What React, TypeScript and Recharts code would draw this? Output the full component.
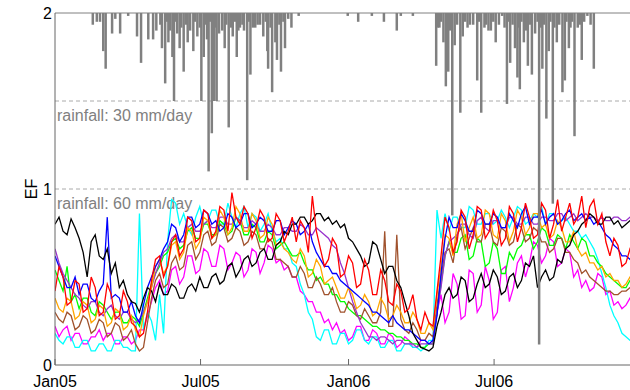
import React from "react";
import { ComposedChart, Line, XAxis, YAxis, ReferenceLine, Label } from "recharts";

// x = days since 1 Jan 2005 (one sample every 5 days), EF values stored as EF x 100
const sampleDays = Array.from({ length: 145 }, (_, i) => i * 5);

const tickDays = [0, 181, 365, 546];
const tickLabels = ["Jan05", "Jul05", "Jan06", "Jul06"];

const black = [
  80, 84, 76, 74, 83, 78, 72, 64, 50, 70, 74, 62,
  60, 66, 52, 58, 44, 48, 40, 36, 35, 30, 38, 44,
  42, 36, 46, 40, 40, 46, 44, 38, 38, 44, 46, 42,
  50, 44, 44, 50, 52, 46, 48, 56, 58, 50, 54, 60,
  62, 56, 58, 64, 66, 60, 60, 68, 70, 76, 74, 80,
  80, 84, 84, 80, 82, 86, 86, 82, 84, 80, 82, 78,
  80, 72, 70, 66, 62, 56, 58, 70, 68, 60, 52, 56,
  56, 48, 44, 36, 28, 18, 14, 10, 9, 8, 10, 22,
  30, 40, 44, 38, 40, 50, 48, 36, 38, 46, 52, 44,
  46, 54, 50, 40, 42, 50, 52, 44, 48, 58, 56, 62,
  44, 50, 54, 48, 50, 60, 58, 66, 68, 74, 76, 80,
  82, 86, 84, 80, 80, 84, 84, 80, 82, 78, 80, 82,
  82,
];
const red = [
  42, 56, 50, 34, 36, 48, 46, 30, 32, 50, 44, 28,
  30, 46, 40, 26, 28, 42, 36, 24, 22, 16, 18, 30,
  48, 60, 62, 50, 56, 70, 74, 62, 66, 84, 82, 70,
  72, 88, 86, 72, 76, 90, 88, 76, 98, 84, 80, 90,
  86, 72, 78, 88, 84, 70, 72, 86, 82, 70, 76, 84,
  70, 82, 78, 64, 96, 76, 66, 56, 60, 72, 68, 50,
  52, 62, 58, 44, 46, 60, 54, 40, 40, 54, 48, 36,
  34, 46, 42, 30, 32, 40, 26, 20, 30, 24, 22, 42,
  62, 84, 78, 64, 70, 88, 84, 66, 74, 90, 88, 72,
  76, 88, 82, 68, 72, 90, 86, 70, 78, 92, 84, 72,
  74, 92, 88, 72, 80, 94, 76, 84, 92, 80, 84, 96,
  78, 90, 94, 80, 86, 70, 62, 72, 68, 56, 58, 66,
  62,
];
const blue = [
  62, 56, 50, 44, 44, 50, 40, 46, 46, 38, 36, 42,
  46, 84, 38, 40, 38, 30, 30, 36, 28, 24, 34, 44,
  50, 56, 60, 66, 70, 80, 78, 70, 74, 84, 84, 78,
  80, 88, 86, 80, 82, 76, 78, 86, 84, 78, 80, 86,
  86, 78, 80, 84, 82, 76, 76, 82, 82, 74, 78, 82,
  80, 74, 76, 80, 70, 64, 60, 56, 56, 52, 52, 48,
  46, 44, 42, 40, 38, 36, 34, 30, 30, 28, 26, 24,
  28, 24, 22, 20, 20, 18, 16, 14, 14, 12, 14, 28,
  52, 72, 84, 78, 78, 86, 82, 76, 76, 88, 86, 80,
  80, 86, 84, 78, 78, 86, 82, 78, 86, 90, 80, 84,
  84, 88, 80, 84, 86, 80, 82, 86, 88, 82, 84, 86,
  82, 84, 80, 82, 78, 74, 72, 68, 66, 62, 62, 60,
  64,
];
const cyan = [
  18, 14, 12, 16, 16, 10, 10, 14, 14, 8, 8, 12,
  12, 8, 8, 14, 14, 10, 10, 8, 8, 86, 20, 30,
  25, 14, 40, 18, 70, 94, 92, 80, 86, 78, 74, 84,
  90, 80, 82, 88, 88, 80, 80, 92, 84, 78, 86, 90,
  78, 86, 84, 76, 80, 86, 76, 70, 72, 66, 66, 58,
  56, 46, 40, 30, 26, 16, 14, 20, 20, 12, 12, 18,
  18, 12, 14, 20, 20, 14, 12, 16, 16, 10, 10, 14,
  14, 8, 8, 12, 12, 10, 10, 8, 10, 14, 14, 88,
  72, 86, 76, 84, 84, 78, 78, 90, 88, 80, 80, 86,
  86, 80, 82, 88, 84, 78, 84, 90, 88, 80, 82, 86,
  84, 90, 80, 86, 86, 80, 82, 84, 80, 76, 76, 72,
  74, 70, 66, 60, 52, 44, 34, 28, 24, 18, 16, 14,
  14,
];
const magenta = [
  22, 16, 20, 22, 14, 18, 18, 12, 12, 16, 16, 20,
  14, 18, 18, 12, 12, 16, 16, 12, 14, 20, 20, 28,
  36, 44, 48, 40, 42, 54, 56, 46, 50, 62, 62, 52,
  54, 66, 64, 56, 56, 68, 66, 54, 58, 64, 62, 50,
  54, 66, 64, 52, 58, 68, 66, 58, 60, 54, 56, 50,
  50, 42, 40, 36, 36, 30, 30, 24, 26, 20, 24, 18,
  20, 14, 16, 22, 22, 14, 14, 20, 18, 12, 12, 18,
  16, 10, 12, 16, 14, 10, 10, 14, 14, 12, 12, 30,
  40, 24, 30, 52, 46, 26, 28, 54, 52, 30, 34, 56,
  48, 26, 30, 54, 56, 36, 44, 58, 62, 50, 58, 70,
  68, 58, 62, 72, 70, 56, 58, 66, 64, 50, 54, 44,
  48, 42, 44, 52, 50, 40, 42, 34, 36, 32, 34, 38,
  36,
];
const green = [
  54, 48, 42, 56, 36, 40, 32, 38, 38, 30, 28, 36,
  34, 30, 26, 30, 30, 24, 24, 28, 26, 22, 30, 38,
  46, 52, 56, 62, 64, 70, 72, 66, 68, 76, 78, 72,
  72, 80, 80, 74, 74, 82, 80, 74, 76, 84, 82, 74,
  74, 80, 78, 70, 70, 76, 74, 66, 68, 70, 66, 62,
  62, 64, 58, 54, 54, 48, 50, 46, 46, 40, 40, 36,
  36, 32, 30, 28, 28, 26, 24, 22, 22, 20, 20, 18,
  18, 16, 16, 14, 14, 12, 12, 10, 10, 12, 12, 30,
  46, 62, 70, 64, 64, 72, 74, 60, 62, 72, 70, 56,
  58, 70, 66, 52, 52, 64, 60, 66, 68, 74, 74, 66,
  70, 78, 76, 68, 68, 74, 72, 66, 74, 70, 66, 72,
  70, 62, 62, 58, 56, 52, 50, 48, 46, 44, 44, 48,
  46,
];
const orange = [
  38, 32, 30, 38, 36, 26, 28, 36, 34, 24, 26, 34,
  32, 22, 24, 32, 30, 20, 22, 28, 20, 16, 28, 36,
  44, 56, 60, 52, 56, 68, 70, 60, 64, 78, 76, 66,
  70, 84, 82, 72, 74, 88, 84, 74, 78, 90, 86, 76,
  76, 86, 82, 72, 74, 84, 80, 68, 70, 66, 64, 60,
  58, 66, 62, 50, 52, 60, 56, 46, 48, 50, 44, 38,
  38, 44, 40, 32, 34, 40, 36, 28, 30, 38, 34, 26,
  28, 34, 30, 24, 24, 30, 26, 18, 18, 24, 20, 40,
  56, 74, 72, 62, 80, 86, 70, 78, 84, 72, 74, 88,
  86, 74, 72, 86, 82, 70, 76, 88, 84, 74, 78, 86,
  86, 78, 80, 72, 74, 82, 78, 70, 70, 76, 66, 62,
  64, 58, 58, 54, 56, 50, 52, 48, 48, 44, 46, 50,
  48,
];
const brown = [
  30, 26, 24, 30, 28, 20, 22, 28, 26, 18, 20, 26,
  24, 16, 18, 24, 22, 14, 16, 20, 12, 8, 10, 24,
  38, 48, 52, 44, 46, 58, 62, 54, 56, 68, 70, 60,
  64, 74, 76, 68, 70, 80, 78, 70, 72, 78, 76, 68,
  70, 76, 74, 66, 66, 72, 70, 60, 60, 58, 56, 50,
  50, 56, 52, 44, 44, 50, 46, 40, 40, 44, 36, 30,
  30, 36, 34, 28, 26, 32, 28, 24, 24, 30, 76, 22,
  22, 74, 26, 20, 18, 24, 20, 14, 14, 18, 16, 34,
  50, 64, 66, 58, 74, 78, 66, 72, 78, 70, 70, 80,
  80, 70, 68, 78, 76, 68, 70, 80, 78, 70, 72, 78,
  76, 70, 70, 64, 66, 72, 72, 64, 64, 60, 58, 52,
  54, 50, 48, 46, 44, 42, 42, 40, 40, 42, 42, 44,
  44,
];
const purple = [
  66, 58, 52, 48, 44, 40, 38, 34, 32, 36, 36, 30,
  28, 32, 34, 28, 26, 30, 30, 26, 24, 26, 30, 36,
  44, 52, 58, 64, 66, 72, 74, 70, 70, 78, 80, 76,
  76, 80, 82, 78, 78, 84, 84, 80, 80, 84, 82, 78,
  78, 82, 80, 76, 76, 80, 78, 74, 74, 78, 78, 76,
  76, 80, 78, 74, 74, 78, 76, 74, 72, 68, 66, 58,
  52, 44, 36, 30, 24, 20, 16, 16, 14, 16, 16, 14,
  12, 14, 14, 12, 12, 12, 10, 12, 12, 12, 12, 30,
  44, 62, 70, 72, 74, 80, 80, 74, 72, 82, 84, 78,
  76, 82, 82, 78, 78, 84, 84, 80, 80, 84, 84, 80,
  80, 84, 84, 82, 82, 86, 86, 82, 84, 86, 82, 84,
  86, 84, 84, 82, 84, 82, 82, 84, 84, 82, 82, 84,
  84,
];

// daily rainfall events (mm/day), hanging from the top of the axes
const rainDays = [
  47, 52, 56, 60, 63, 71, 75, 81, 91, 102, 107, 116, 122, 126, 133, 137, 141, 146, 148, 152,
  155, 160, 165, 172, 177, 182, 185, 189, 191, 195, 198, 201, 208, 211, 216, 221, 226, 230, 235, 239,
  243, 249, 252, 259, 264, 265, 270, 274, 276, 281, 286, 294, 303,
  131, 139, 143, 150, 157, 163, 168, 174, 180, 187, 193, 200, 204, 213, 219, 224, 228, 233, 241, 246,
  255, 262, 268, 279, 284, 290,
  364, 377, 394, 409, 425, 430, 445,
  474, 476, 483, 486, 489, 494, 497, 504, 507, 516, 525, 530, 534, 539, 548, 556, 562, 566, 572, 575,
  578, 583, 588, 593, 597, 602, 606, 611, 614, 619, 624, 631, 634, 639, 646, 650, 655, 662, 670,
  478, 480, 491, 500, 510, 513, 520, 527, 536, 542, 545, 552, 559, 564, 569, 577, 580, 586, 591, 600,
  604, 608, 616, 621, 627, 636, 641, 643, 653, 658, 666,
];
const rainMm = [
  4, 3, 3, 13, 19, 7, 2, 7, 1, 8, 17, 9, 9, 6, 12, 24, 10, 15, 30, 7,
  12, 20, 10, 13, 8, 30, 15, 9, 54, 41, 30, 30, 6, 12, 39, 8, 15, 5, 6, 57,
  21, 5, 4, 8, 13, 19, 27, 10, 16, 20, 12, 5, 1,
  4, 3, 6, 3, 5, 4, 6, 3, 5, 4, 3, 5, 7, 4, 5, 3, 6, 4, 3, 5,
  4, 3, 5, 4, 3, 2,
  1, 3, 1, 3, 6, 1, 1,
  18, 5, 10, 25, 20, 69, 11, 34, 8, 4, 23, 34, 5, 6, 10, 1, 31, 17, 12, 22,
  26, 10, 18, 21, 7, 113, 19, 36, 13, 65, 10, 27, 23, 12, 42, 5, 16, 1, 19,
  5, 3, 6, 4, 3, 5, 4, 3, 4, 6, 3, 4, 5, 3, 4, 5, 3, 6, 4, 3,
  5, 4, 3, 5, 4, 3, 5, 3, 4, 3, 4,
];

const series = [
  { key: "magenta", values: magenta, color: "#ff00ff" },
  { key: "cyan", values: cyan, color: "#00ffff" },
  { key: "green", values: green, color: "#00ff00" },
  { key: "brown", values: brown, color: "#a0522d" },
  { key: "purple", values: purple, color: "#9932cc" },
  { key: "orange", values: orange, color: "#ffa500" },
  { key: "blue", values: blue, color: "#0000ff" },
  { key: "black", values: black, color: "#000000" },
  { key: "red", values: red, color: "#ff0000" },
];

const chartData = sampleDays.map((day, i) => {
  const row: Record<string, number> = { day };
  series.forEach((s) => {
    row[s.key] = s.values[i] / 100;
  });
  return row;
});

const FONT = "'Liberation Sans', Arial, Helvetica, sans-serif";

const rainLabel = (text: string) => (props: any) => {
  const { viewBox } = props;
  return (
    <text x={viewBox.x + 2} y={viewBox.y + 20} fill="#808080" fontSize={16} fontFamily={FONT}>
      {text}
    </text>
  );
};

export default function App() {
  return (
    <div
      style={{
        position: "absolute",
        left: 0,
        top: 0,
        width: 630,
        height: 390,
        overflow: "hidden",
        background: "#fff",
      }}
    >
      <ComposedChart
        width={630}
        height={390}
        data={chartData}
        margin={{ top: 13, right: 0, bottom: 0, left: 0 }}
      >
        <XAxis
          dataKey="day"
          type="number"
          domain={[0, 715]}
          allowDataOverflow
          ticks={tickDays}
          tickFormatter={(d: number) => tickLabels[tickDays.indexOf(d)]}
          height={25}
          stroke="#666"
          tickSize={-6}
          tickMargin={17}
          tick={{ fill: "#000", fontSize: 16, fontFamily: FONT }}
        />
        <YAxis
          type="number"
          domain={[0, 2]}
          ticks={[0, 1, 2]}
          width={55}
          stroke="#666"
          tickLine={false}
          tickSize={0}
          tickMargin={3}
          tick={{ fill: "#000", fontSize: 16, fontFamily: FONT }}
        >
          <Label value="EF" angle={-90} position="center" dx={4} fill="#000" fontSize={16} fontFamily={FONT} />
        </YAxis>

        <ReferenceLine y={2} stroke="#808080" strokeWidth={1} />
        <ReferenceLine
          y={1.5}
          stroke="#aaa"
          strokeDasharray="4 3"
          label={rainLabel("rainfall: 30 mm/day")}
        />
        <ReferenceLine
          y={1}
          stroke="#aaa"
          strokeDasharray="4 3"
          label={rainLabel("rainfall: 60 mm/day")}
        />

        {series.map((s) => (
          <Line
            key={s.key}
            dataKey={s.key}
            type="linear"
            stroke={s.color}
            strokeWidth={1.3}
            dot={false}
            isAnimationActive={false}
          />
        ))}

        {rainDays.map((d, i) => (
          <ReferenceLine
            key={"rain" + i}
            segment={[
              { x: d, y: 2 },
              { x: d, y: 2 - rainMm[i] / 60 },
            ]}
            stroke="#808080"
            strokeWidth={2.5}
          />
        ))}
      </ComposedChart>
    </div>
  );
}
